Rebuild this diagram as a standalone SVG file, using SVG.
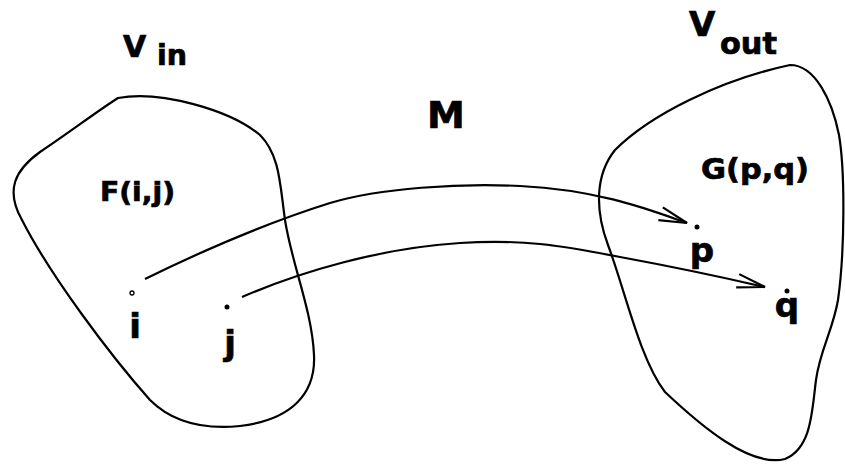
<svg xmlns="http://www.w3.org/2000/svg" width="845" height="464" viewBox="0 0 845 464">
<defs>
<style>
.blob{fill:none;stroke:#000;stroke-width:2.2;stroke-linejoin:round}
.conn{fill:none;stroke:#000;stroke-width:2.2}
.t{font-family:"DejaVu Sans","Liberation Sans",Arial,sans-serif;font-weight:bold;fill:#000;stroke:#000;stroke-width:0.7}
.pt{fill:#000}
</style>
<marker id="ah" markerUnits="userSpaceOnUse" markerWidth="40" markerHeight="24" refX="30" refY="12" orient="auto" overflow="visible">
<path d="M2,5.2 L30,12 L2,18.8" fill="none" stroke="#000" stroke-width="2.2" stroke-linejoin="miter"/>
</marker>
</defs>
<rect width="845" height="464" fill="#fff"/>

<g id="Vin">
<path class="blob" d="M118,98 C160,90 230,110 260,135 C280,155 280,185 285,220 C292,265 312,310 314,355 C316,395 290,420 240,426 C200,430 170,420 150,400 C110,355 50,275 22,220 C5,190 15,170 40,152 C70,132 96,112 118,98 Z"/>
<text class="t" x="123" y="57" font-size="30">V</text>
<text class="t" x="157" y="65" font-size="28" textLength="30" lengthAdjust="spacingAndGlyphs">in</text>
<text class="t" x="100" y="201" font-size="27" textLength="75" lengthAdjust="spacingAndGlyphs">F(i,j)</text>
</g>

<g id="Vout">
<path class="blob" d="M790,65 C815,65 832,100 839,135 C845,170 845,250 838,300 C833,330 820,350 816,380 C812,410 812,448 785,459 C750,468 700,425 665,392 C640,360 625,290 608,245 C595,210 595,175 615,150 C650,115 720,80 790,65 Z"/>
<text class="t" x="689" y="36" font-size="34">V</text>
<text class="t" x="720" y="54" font-size="30" textLength="57" lengthAdjust="spacingAndGlyphs">out</text>
<text class="t" x="701" y="179" font-size="29" textLength="108" lengthAdjust="spacingAndGlyphs">G(p,q)</text>
</g>

<g id="M">
<text class="t" x="427" y="128" font-size="38">M</text>
</g>

<g id="point-i">
<circle cx="132" cy="293" r="2" fill="#fff" stroke="#000" stroke-width="1.3"/>
<text class="t" x="135" y="338" font-size="34" text-anchor="middle">i</text>
</g>
<g id="point-j">
<circle class="pt" cx="227" cy="307" r="2.5"/>
<text class="t" x="230" y="355" font-size="34" text-anchor="middle">j</text>
</g>
<g id="point-p">
<circle class="pt" cx="697" cy="227" r="2.5"/>
<text class="t" x="702" y="262" font-size="34" text-anchor="middle">p</text>
</g>
<g id="point-q">
<circle class="pt" cx="787" cy="291" r="2.5"/>
<text class="t" x="787" y="317" font-size="34" text-anchor="middle">q</text>
</g>

<g id="connectors">
<path class="conn" marker-end="url(#ah)" d="M145,279 C200,252 260,225 330,203 C380,188 460,183 520,186 C600,190 650,210 687,223"/>
<path class="conn" marker-end="url(#ah)" d="M242,297 C300,272 380,248 460,243 C520,239 560,245 620,257 C680,268 730,279 765,287"/>
</g>
</svg>
